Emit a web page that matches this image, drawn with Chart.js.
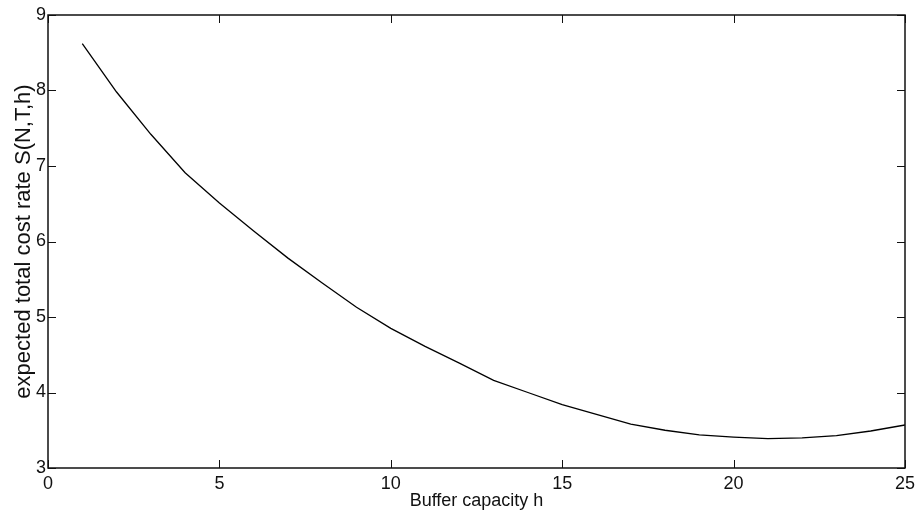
<!DOCTYPE html>
<html>
<head>
<meta charset="utf-8">
<script src="https://cdn.jsdelivr.net/npm/chart.js@4/dist/chart.umd.min.js"></script>
<style>
  html, body { margin: 0; padding: 0; background: #fff; }
  #wrap { width: 916px; height: 515px; }
</style>
</head>
<body>
<div id="wrap"><canvas id="grafico" width="916" height="515"></canvas></div>
<script>
'use strict';

// dati
const bufferH = [1, 2, 3, 4, 5, 6, 7, 8, 9, 10, 11, 12, 13, 14, 15, 16, 17, 18, 19, 20, 21, 22, 23, 24, 25];
const costRate = [8.62, 7.98, 7.42, 6.91, 6.51, 6.14, 5.78, 5.45, 5.13, 4.85, 4.61, 4.39, 4.16, 4.00, 3.84,
                  3.71, 3.58, 3.50, 3.44, 3.41, 3.39, 3.40, 3.43, 3.49, 3.57];
const xTickVals = [0, 5, 10, 15, 20, 25];
const yTickVals = [3, 4, 5, 6, 7, 8, 9];

const FONT = "'Liberation Sans', Arial, sans-serif";
const TICK_LEN = 8;

// box + ticks inward on all four sides (stile MATLAB)
const boxTicks = {
  id: 'boxTicks',
  afterDraw(chart) {
    const { ctx, chartArea: a, scales } = chart;
    ctx.save();
    ctx.strokeStyle = '#111';
    ctx.lineWidth = 1;
    xTickVals.forEach(v => {
      const px = Math.round(scales.x.getPixelForValue(v)) + 0.5;
      ctx.beginPath();
      ctx.moveTo(px, a.bottom); ctx.lineTo(px, a.bottom - TICK_LEN);
      ctx.moveTo(px, a.top); ctx.lineTo(px, a.top + TICK_LEN);
      ctx.stroke();
    });
    yTickVals.forEach(v => {
      const py = Math.round(scales.y.getPixelForValue(v)) + 0.5;
      ctx.beginPath();
      ctx.moveTo(a.left, py); ctx.lineTo(a.left + TICK_LEN, py);
      ctx.moveTo(a.right, py); ctx.lineTo(a.right - TICK_LEN, py);
      ctx.stroke();
    });
    ctx.lineWidth = 1.5;
    ctx.strokeRect(a.left, a.top, a.right - a.left, a.bottom - a.top);
    ctx.restore();
  }
};

const ctx = document.getElementById('grafico').getContext('2d');

new Chart(ctx, {
  type: 'line',
  data: {
    datasets: [{
      data: bufferH.map((h, i) => ({ x: h, y: costRate[i] })),
      borderColor: '#000',
      borderWidth: 1.3,
      pointRadius: 0,
      tension: 0,
      fill: false
    }]
  },
  options: {
    responsive: false,
    animation: false,
    events: [],
    layout: { padding: { top: 15, right: 11, left: 0, bottom: 0 } },
    plugins: { legend: { display: false }, tooltip: { enabled: false } },
    scales: {
      x: {
        type: 'linear',
        min: 0, max: 25,
        afterBuildTicks: s => { s.ticks = xTickVals.map(v => ({ value: v })); },
        afterFit: s => { s.height = 47; s.paddingRight = 0; s.paddingLeft = 0; },
        grid: { display: false, drawTicks: false },
        border: { display: false },
        ticks: { color: '#111', font: { family: FONT, size: 18 }, padding: 5, maxRotation: 0 },
        title: { display: true, text: 'Buffer capacity h', color: '#111', font: { family: FONT, size: 18 }, padding: { top: 0, bottom: 3 } }
      },
      y: {
        type: 'linear',
        min: 3, max: 9,
        afterBuildTicks: s => { s.ticks = yTickVals.map(v => ({ value: v })); },
        afterFit: s => { s.width = 48; s.paddingTop = 0; s.paddingBottom = 0; },
        grid: { display: false, drawTicks: false },
        border: { display: false },
        ticks: { color: '#111', font: { family: FONT, size: 18 }, padding: 2 },
        title: { display: true, text: 'expected total cost rate S(N,T,h)', color: '#111', font: { family: FONT, size: 22 }, padding: { top: 11, bottom: 0 } }
      }
    }
  },
  plugins: [boxTicks]
});
</script>
</body>
</html>
